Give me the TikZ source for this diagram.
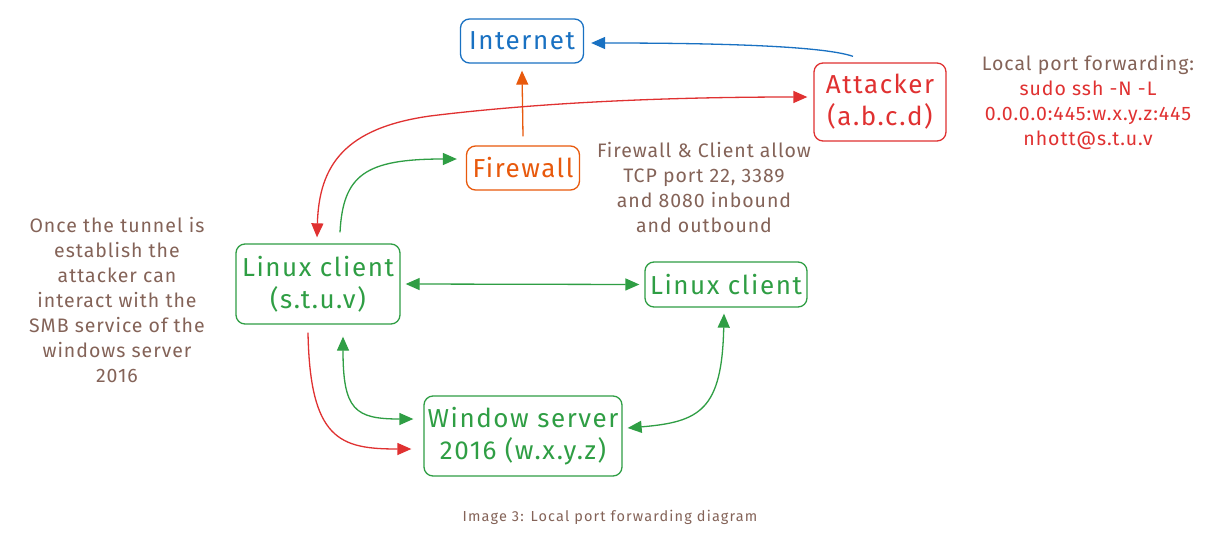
\documentclass[tikz,border=0pt]{standalone}
\usepackage{fontspec}
\setmainfont{Fira Sans}
\usetikzlibrary{arrows.meta}
\definecolor{cblue}{HTML}{1971C2}
\definecolor{cred}{HTML}{E03131}
\definecolor{corange}{HTML}{E8590C}
\definecolor{cgreen}{HTML}{2F9E44}
\definecolor{cbrown}{HTML}{846358}
\newfontfamily\boxfont[LetterSpace=6]{Fira Sans}
\newfontfamily\notefont[LetterSpace=5]{Fira Sans}
\newfontfamily\capfont[LetterSpace=8]{Fira Sans}
\begin{document}
\begin{tikzpicture}[x=1pt,y=-1pt,
  box/.style={draw, rounded corners=9pt, line width=1.3pt, align=center, inner sep=0pt,
    font=\boxfont\fontsize{26}{32}\selectfont},
  note/.style={text=cbrown, align=center, inner sep=0pt, font=\notefont\fontsize{19.5}{25}\selectfont},
  arr/.style={line width=1.3pt, -{Triangle[length=14pt,width=12pt]}},
  darr/.style={line width=1.3pt, {Triangle[length=14pt,width=12pt]}-{Triangle[length=14pt,width=12pt]}}
]
\useasboundingbox[fill=white] (0,0) rectangle (1218,546);

% nodes
\node[box, draw=cblue, text=cblue, minimum width=123pt, minimum height=44pt] (internet) at (522,41) {Internet};
\node[box, draw=cred, text=cred, minimum width=132pt, minimum height=78pt] (attacker) at (880,102) {Attacker\\(a.b.c.d)};
\node[box, draw=corange, text=corange, minimum width=113pt, minimum height=44pt] (firewall) at (523,168) {Firewall};
\node[box, draw=cgreen, text=cgreen, minimum width=164pt, minimum height=80pt] (linuxa) at (318,284) {Linux client\\(s.t.u.v)};
\node[box, draw=cgreen, text=cgreen, minimum width=162pt, minimum height=45pt] (linuxb) at (726,284.5) {Linux client};
\node[box, draw=cgreen, text=cgreen, minimum width=198pt, minimum height=80pt] (server) at (523,436) {Window server\\2016 (w.x.y.z)};

% notes
\node[note] (fwnote) at (704,188) {Firewall \& Client allow\\TCP port 22, 3389\\and 8080 inbound\\and outbound};
\node[note] (lpf) at (1088,102) {Local port forwarding:\\\textcolor{cred}{sudo ssh -N -L}\\\textcolor{cred}{0.0.0.0:445:w.x.y.z:445}\\\textcolor{cred}{nhott@s.t.u.v}};
\node[note] (leftnote) at (117,300) {Once the tunnel is\\establish the\\attacker can\\interact with the\\SMB service of the\\windows server\\2016};
\node[text=cbrown, inner sep=0pt, font=\capfont\fontsize{14.5}{16}\selectfont] (caption) at (610,517) {Image 3: Local port forwarding diagram};

% connectors
\draw[arr, cblue] ([shift={(-27pt,6pt)}]attacker.north) .. controls (820,45) and (700,43) .. ([shift={(7pt,-2pt)}]internet.east);
\draw[arr, corange] ([yshift=9pt]firewall.north) -- ([yshift=-7pt]internet.south);
\draw[darr, cred] ([shift={(-1pt,6pt)}]linuxa.north) .. controls (319,165) and (345,128) .. (430,116) .. controls (560,100) and (700,97) .. ([shift={(-6pt,5pt)}]attacker.west);
\draw[arr, cgreen] ([shift={(22pt,11pt)}]linuxa.north) .. controls (343,175) and (365,159) .. ([shift={(-9pt,9pt)}]firewall.west);
\draw[darr, cgreen] ([xshift=5pt]linuxa.east) -- ([xshift=-5pt]linuxb.west);
\draw[darr, cgreen] ([shift={(25pt,-12pt)}]linuxa.south) .. controls (343,410) and (355,419) .. ([shift={(-10pt,17pt)}]server.west);
\draw[arr, cred] ([shift={(-10pt,-8pt)}]linuxa.south) .. controls (310,440) and (340,449) .. ([shift={(-12pt,-13pt)}]server.west);
\draw[darr, cgreen] ([shift={(-2pt,-6pt)}]linuxb.south) .. controls (722,410) and (700,422) .. ([shift={(5pt,8pt)}]server.east);
\end{tikzpicture}
\end{document}
